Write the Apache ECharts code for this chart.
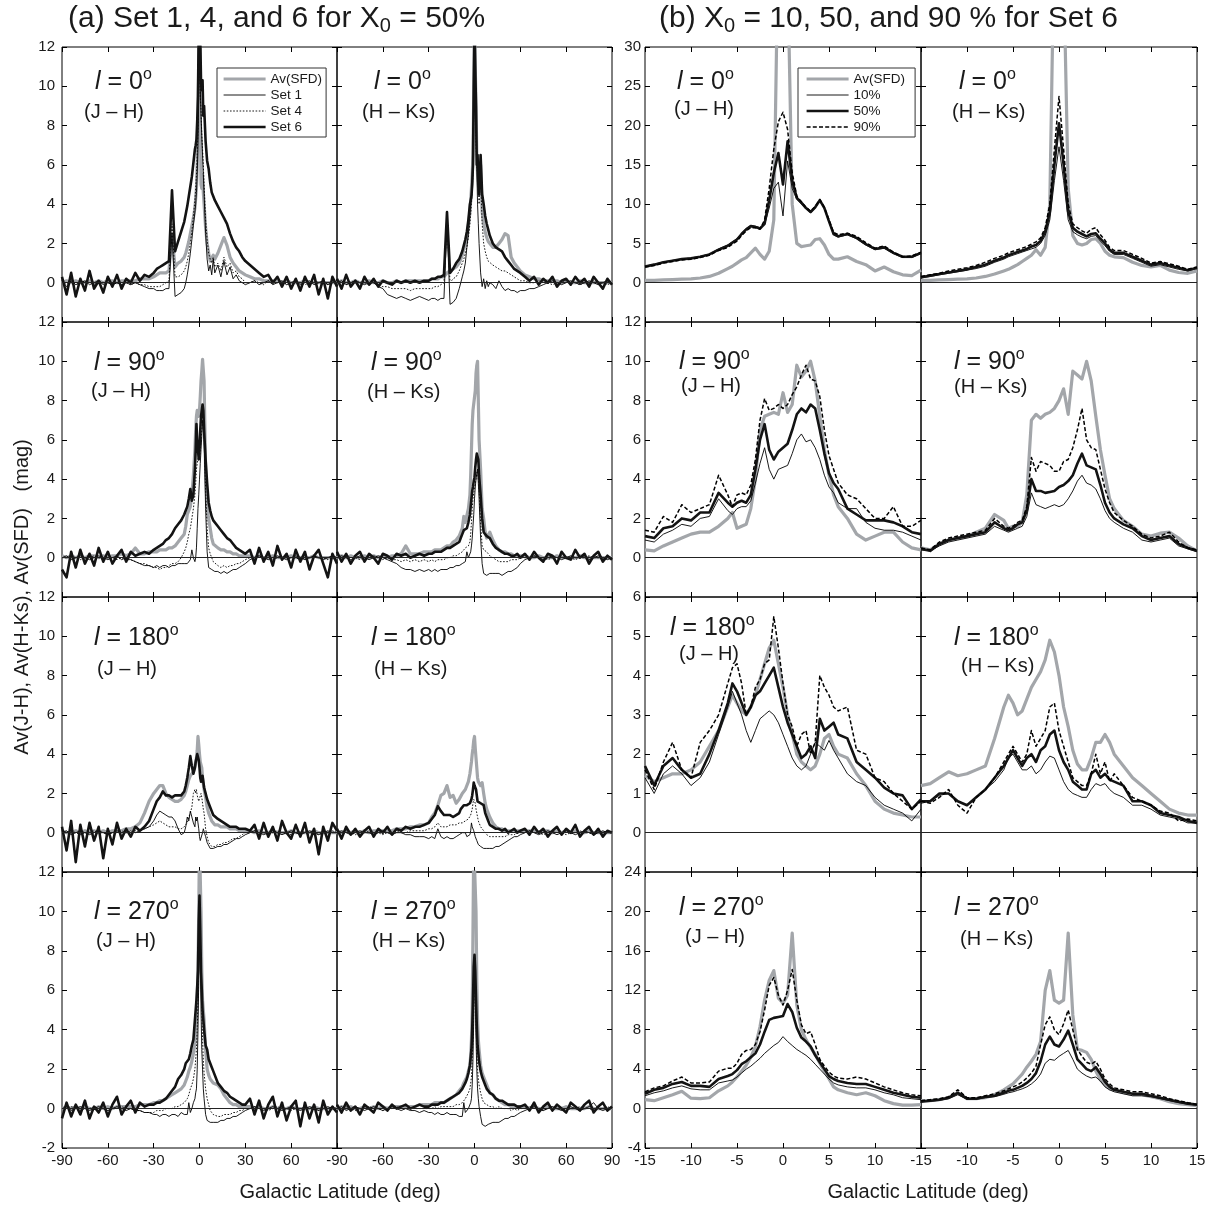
<!DOCTYPE html>
<html>
<head>
<meta charset="utf-8">
<script src="https://cdn.jsdelivr.net/npm/echarts/dist/echarts.min.js"></script>
<style>
html,body{margin:0;padding:0;background:#fff;}
#chart{width:1209px;height:1206px;}
</style>
</head>
<body>
<div id="chart"></div>
<script>
// ---------- sampling grids and tick labels ----------
// Galactic latitude (deg), full-sky profiles
const latA = [
  -90,-87,-84,-81,-78,-75,-72,-69,-66,-63,
  -60,-57,-54,-51,-48,-45,-42,-39,-36,-33,
  -30,-28,-26,-24,-22,-20,-18,-16,-14,-12,
  -10,-9,-8,-7,-6,-5,-4,
  -3,-2.5,-2,-1.5,-1,-0.5,0,0.5,1,1.5,2,2.5,3,
  4,5,6,7,8,9,10,
  12,14,16,18,20,22,24,26,28,30,
  33,36,39,42,45,48,51,54,57,60,
  63,66,69,72,75,78,81,84,87,90
];
// Galactic latitude (deg), low-latitude profiles
const latB = [
  -15,-14,-13,-12,-11,-10,-9,-8,-7,
  -6,-5.5,-5,-4.5,-4,-3.5,-3,-2.5,-2,-1.5,-1,-0.5,0,0.5,1,1.5,2,2.5,3,3.5,4,4.5,5,5.5,6,
  7,8,9,10,11,12,13,14,15
];
const xTicksA = [-90,-60,-30,0,30,60,90];
const xTicksB = [-15,-10,-5,0,5,10,15];
const yTicksA = [-2,0,2,4,6,8,10,12];
const yTicksB0 = [-5,0,5,10,15,20,25,30];
const yTicksB1 = [-2,0,2,4,6,8,10,12];
const yTicksB2 = [-1,0,1,2,3,4,5,6];
const yTicksB3 = [-4,0,4,8,12,16,20,24];

// ---------- (a) l = 0, J-H ----------
const sfd_l0_jh = [
  0.0,0.1,0.0,0.1,0.0,0.0,0.1,0.0,0.1,0.0, 0.1,0.1,0.0,0.1,0.1,0.1,0.1,0.2,0.2,0.2,
  0.3,0.4,0.5,0.5,0.5,0.6,2.4,0.8,1.0,1.1,
  1.3,1.5,1.8,2.1,2.5,2.9,3.3,
  3.8,4.3,4.8,6.0,8.0,11.0,13.5,9.0,5.0,4.8,5.5,4.6,4.0,
  2.8,2.0,1.5,1.1,1.0,1.4,1.2,
  1.5,1.9,2.3,1.9,1.3,1.0,0.8,0.6,0.5,0.4,
  0.3,0.2,0.2,0.1,0.1,0.1,0.1,0.0,0.1,0.0, 0.0,0.0,0.1,0.0,0.0,0.0,0.0,0.0,0.0,0.0
];
const set1_l0_jh = [
  0.1,-0.2,0.1,-0.1,0.0,0.1,-0.1,0.0,0.1,-0.1, 0.0,-0.1,0.0,-0.1,0.0,-0.1,0.0,-0.1,-0.2,-0.3,
  -0.3,-0.4,-0.4,-0.4,-0.3,-0.3,2.5,-0.7,-0.6,-0.5,
  -0.3,0.0,0.4,0.9,1.5,2.2,2.9,
  3.6,4.0,4.6,5.5,7.0,9.5,12.5,10.0,8.5,7.5,6.5,5.5,4.5,
  2.5,1.2,0.6,0.9,0.4,1.2,0.5,
  0.9,0.3,1.1,0.4,0.8,0.2,0.4,0.1,0.0,-0.1,
  0.0,0.1,-0.1,0.0,0.1,-0.1,0.0,0.1,-0.1,0.0, 0.1,-0.1,0.0,0.1,-0.1,0.0,0.1,-0.1,0.0,0.1
];
const set4_l0_jh = [
  0.1,-0.1,0.1,-0.1,0.0,0.1,0.0,-0.1,0.1,0.0, 0.0,-0.1,0.0,-0.1,0.0,-0.1,0.0,-0.1,-0.1,-0.2,
  -0.2,-0.2,-0.2,-0.1,0.0,0.1,3.0,0.3,0.3,0.4,
  0.6,0.8,1.1,1.5,2.0,2.6,3.4,
  4.2,4.8,5.5,6.5,7.8,10.0,12.5,9.5,8.8,7.5,6.8,6.0,5.0,
  3.2,2.2,1.5,1.2,1.0,1.3,0.8,
  1.0,0.6,1.3,0.8,1.0,0.5,0.6,0.3,0.2,0.0,
  0.0,0.1,0.0,-0.1,0.1,0.0,0.0,0.1,-0.1,0.0, 0.1,0.0,-0.1,0.0,0.1,0.0,0.0,-0.1,0.0,0.1
];
const set6_l0_jh = [
  0.3,-0.6,0.5,-0.7,0.2,-0.4,0.6,-0.3,0.1,-0.5, 0.3,-0.2,0.4,-0.3,0.2,0.0,0.5,0.1,0.4,0.3,
  0.5,0.7,0.8,0.9,1.0,1.1,4.7,1.6,2.1,2.6,
  3.1,3.5,3.9,4.4,4.9,5.4,6.1,
  6.8,7.0,7.3,8.2,9.5,13.0,13.0,12.5,10.2,9.8,10.3,8.5,9.0,
  7.2,6.2,5.8,5.1,4.6,4.4,4.2,
  3.9,3.6,3.3,3.0,2.5,2.1,1.8,1.6,1.3,1.1,
  0.9,0.7,0.5,0.3,0.4,0.0,0.3,-0.2,0.3,-0.3, 0.2,-0.4,0.3,-0.2,0.4,-0.6,0.2,-0.8,0.3,-0.2
];

// ---------- (a) l = 0, H-Ks ----------
const sfd_l0_hk = [
  0.0,0.1,0.0,0.0,0.1,0.0,0.0,0.1,0.0,0.0, 0.1,0.0,0.0,0.1,0.0,0.1,0.1,0.1,0.1,0.1,
  0.1,0.2,0.2,0.2,0.3,0.3,0.5,0.6,0.7,0.8,
  1.0,1.2,1.4,1.7,2.0,2.3,2.9,
  3.6,4.2,4.8,5.5,6.5,9.5,13.5,11.0,9.0,6.5,5.5,5.0,4.5,
  6.0,3.6,3.0,2.6,2.3,2.1,2.0,
  1.8,1.8,2.0,2.2,2.5,2.4,1.3,1.0,0.8,0.6,
  0.4,0.3,0.2,0.2,0.1,0.1,0.1,0.1,0.0,0.1, 0.0,0.0,0.1,0.0,0.0,0.0,0.0,0.0,0.0,0.0
];
const set1_l0_hk = [
  0.0,0.1,-0.1,0.0,0.1,0.0,-0.1,0.0,0.0,-0.2, -0.3,-0.6,-0.7,-0.8,-0.7,-0.8,-0.9,-0.8,-0.7,-0.8,
  -0.9,-0.8,-0.8,-0.9,-0.8,-0.8,3.0,-1.1,-1.0,-0.8,
  -0.3,0.0,0.3,0.6,1.0,1.8,2.5,
  3.5,4.0,4.5,5.5,6.5,9.0,12.5,10.0,8.0,6.0,4.0,3.0,2.0,
  0.5,-0.2,0.2,-0.3,0.1,-0.2,0.0,
  -0.1,-0.3,0.1,-0.2,-0.4,-0.3,-0.4,-0.4,-0.5,-0.4,
  -0.4,-0.3,-0.3,-0.2,-0.1,0.0,0.1,0.0,-0.1,0.0, 0.1,0.0,-0.1,0.0,0.1,0.0,-0.1,0.0,0.1,0.0
];
const set4_l0_hk = [
  0.0,0.0,-0.1,0.0,0.1,0.0,0.0,-0.1,0.0,-0.1, -0.2,-0.2,-0.3,-0.3,-0.3,-0.3,-0.4,-0.3,-0.3,-0.3,
  -0.3,-0.3,-0.2,-0.2,-0.1,0.0,3.0,0.0,0.2,0.3,
  0.6,0.8,1.0,1.2,1.5,1.8,2.3,
  3.0,3.5,4.0,4.8,5.5,8.5,12.5,9.0,7.0,6.0,5.5,4.8,4.0,
  5.5,3.0,2.0,1.6,1.3,1.1,1.0,
  0.9,0.8,0.7,0.6,0.6,0.5,0.4,0.3,0.2,0.1,
  0.1,0.0,0.0,0.1,0.0,0.0,-0.1,0.0,0.0,0.1, 0.0,0.0,-0.1,0.0,0.0,0.1,0.0,0.0,-0.1,0.0
];
const set6_l0_hk = [
  0.2,-0.3,0.4,-0.2,0.1,-0.3,0.3,-0.1,0.2,-0.2, 0.1,0.0,-0.1,0.1,0.0,0.1,0.0,0.1,0.0,0.1,
  0.1,0.2,0.2,0.3,0.3,0.4,3.6,0.5,0.7,1.0,
  1.2,1.4,1.6,1.9,2.2,2.6,3.2,
  4.0,4.2,4.4,5.0,6.0,10.0,13.0,13.0,9.0,6.0,6.5,5.0,4.5,
  6.5,4.5,4.0,3.4,3.0,2.7,2.4,
  2.0,1.8,1.7,1.6,1.3,1.1,0.9,0.7,0.6,0.5,
  0.3,0.1,0.3,-0.1,0.2,0.0,0.3,-0.2,0.1,0.2, -0.1,0.3,0.0,0.2,-0.2,0.3,0.0,-0.3,0.2,-0.1
];

// ---------- (a) l = 90, J-H ----------
const sfd_l90_jh = [
  0.1,0.0,0.1,0.0,0.1,0.0,0.1,0.1,0.0,0.1, 0.0,0.1,0.1,0.2,0.1,0.2,0.5,0.2,0.2,0.3,
  0.3,0.3,0.4,0.4,0.4,0.5,0.5,0.6,0.8,1.0,
  1.2,1.6,2.2,2.2,2.6,3.2,4.2,
  5.5,6.5,7.2,7.5,7.4,7.2,7.5,8.2,9.0,9.5,10.1,10.0,9.0,
  4.5,2.5,2.0,1.5,1.0,0.7,0.6,
  0.5,0.4,0.4,0.3,0.3,0.2,0.2,0.1,0.1,0.1,
  0.1,0.0,0.1,0.0,0.0,0.1,0.0,0.0,0.0,0.1, 0.0,0.0,0.0,0.0,0.1,0.0,0.0,0.0,0.0,0.0
];
const set1_l90_jh = [
  0.0,0.1,-0.1,0.0,0.1,0.0,-0.1,0.0,0.1,0.0, -0.1,0.0,0.1,-0.1,0.0,-0.1,-0.2,-0.3,-0.4,-0.4,
  -0.5,-0.4,-0.5,-0.4,-0.4,-0.5,-0.4,-0.4,-0.3,-0.3,
  -0.3,-0.2,-0.3,-0.2,-0.1,0.4,0.0,
  -0.2,0.0,0.5,1.5,2.5,3.2,4.0,4.8,5.5,6.2,7.0,6.5,6.0,
  2.5,0.3,-0.5,-0.6,-0.6,-0.7,-0.7,
  -0.7,-0.8,-0.7,-0.8,-0.7,-0.6,-0.6,-0.5,-0.4,-0.3,
  -0.1,0.0,0.1,0.0,-0.1,0.0,0.1,0.0,-0.1,0.0, 0.1,0.0,-0.1,0.0,0.1,0.0,-0.1,0.0,0.1,0.0
];
const set4_l90_jh = [
  0.0,0.0,0.1,0.0,-0.1,0.0,0.0,0.1,0.0,-0.1, 0.0,0.0,-0.1,0.0,-0.1,-0.1,-0.2,-0.3,-0.3,-0.4,
  -0.5,-0.5,-0.6,-0.5,-0.5,-0.4,-0.3,-0.3,-0.2,0.0,
  0.3,0.5,0.8,1.2,1.5,2.0,2.5,
  3.2,3.8,4.5,4.8,5.0,5.2,5.0,5.5,6.0,6.5,7.0,6.8,6.5,
  3.5,1.5,0.5,0.2,0.0,-0.2,-0.3,
  -0.4,-0.5,-0.4,-0.5,-0.4,-0.4,-0.3,-0.3,-0.2,-0.1,
  0.0,0.0,0.1,0.0,0.0,-0.1,0.0,0.0,0.1,0.0, 0.0,-0.1,0.0,0.0,0.1,0.0,0.0,-0.1,0.0,0.0
];
const set6_l90_jh = [
  -0.6,-1.0,0.3,-0.5,0.4,-0.3,0.2,-0.4,0.5,-0.2, 0.3,-0.3,0.1,0.4,-0.2,0.3,0.1,0.2,0.3,0.2,
  0.4,0.5,0.6,0.7,0.9,1.0,1.2,1.5,1.7,1.9,
  2.2,2.4,2.6,3.0,3.5,2.9,3.2,
  4.5,5.5,6.8,6.0,5.5,5.0,5.5,6.5,7.2,7.5,7.8,7.5,6.5,
  5.0,3.8,2.8,2.4,2.1,1.9,1.8,
  1.6,1.4,1.2,1.0,0.9,0.7,0.5,0.4,0.3,0.2,
  0.4,-0.3,0.5,-0.2,0.3,-0.4,0.6,-0.1,0.2,-0.5, 0.4,-0.2,0.3,-0.6,0.1,0.4,-0.3,-1.0,0.2,-0.3
];

// ---------- (a) l = 90, H-Ks ----------
const sfd_l90_hk = [
  0.0,0.1,0.0,0.1,0.0,0.0,0.1,0.0,0.1,0.0, 0.1,0.0,0.1,0.1,0.2,0.6,0.2,0.2,0.2,0.3,
  0.3,0.3,0.4,0.4,0.4,0.5,0.6,0.6,0.8,0.9,
  1.1,1.3,1.5,2.1,1.8,1.9,2.5,
  3.2,4.2,5.5,6.8,7.5,7.5,7.6,8.5,9.4,9.8,10.0,8.0,6.0,
  4.5,2.5,2.0,1.3,1.0,1.1,1.3,
  0.9,0.6,0.4,0.3,0.3,0.2,0.2,0.1,0.1,0.1,
  0.1,0.0,0.0,0.1,0.0,0.0,0.0,0.1,0.0,0.0, 0.0,0.0,0.1,0.0,0.0,0.0,0.0,0.0,0.0,0.0
];
const set1_l90_hk = [
  0.0,0.1,0.0,-0.1,0.0,0.1,0.0,-0.1,0.0,0.1, 0.0,-0.1,-0.2,-0.3,-0.5,-0.6,-0.6,-0.7,-0.6,-0.7,
  -0.6,-0.7,-0.6,-0.7,-0.6,-0.6,-0.6,-0.5,-0.5,-0.4,
  -0.4,-0.4,-0.3,-0.3,-0.2,0.3,0.0,
  0.0,0.3,0.6,1.0,1.6,2.2,3.0,3.6,4.0,4.3,4.5,3.8,3.0,
  1.0,-0.3,-0.8,-0.9,-0.9,-0.8,-0.8,
  -0.8,-0.8,-0.8,-0.9,-0.8,-0.7,-0.7,-0.6,-0.5,-0.3,
  -0.1,0.0,0.1,0.0,-0.1,0.0,0.1,0.0,-0.1,0.0, 0.1,0.0,0.0,0.1,-0.1,0.0,0.1,0.0,-0.1,0.0
];
const set4_l90_hk = [
  0.0,0.0,0.1,0.0,0.0,-0.1,0.0,0.0,0.1,0.0, -0.1,0.0,-0.1,-0.1,-0.2,-0.1,-0.2,-0.1,-0.2,-0.1,
  -0.2,-0.1,-0.2,-0.1,-0.1,-0.1,0.0,0.0,0.1,0.1,
  0.2,0.3,0.3,0.4,0.5,0.5,0.6,
  0.8,1.2,1.8,2.5,3.0,3.3,3.5,3.8,4.0,4.3,4.5,4.0,3.5,
  1.8,0.6,0.4,0.3,0.3,0.2,0.1,
  0.0,-0.1,-0.2,-0.2,-0.2,-0.2,-0.1,-0.1,-0.1,0.0,
  0.0,0.0,0.1,0.0,0.0,-0.1,0.0,0.0,0.1,0.0, 0.0,-0.1,0.0,0.0,0.1,0.0,0.0,-0.1,0.0,0.0
];
const set6_l90_hk = [
  0.3,-0.2,0.2,-0.3,0.1,0.3,-0.2,0.2,0.0,-0.3, 0.2,0.1,-0.1,0.2,0.1,0.2,0.0,0.1,0.2,0.1,
  0.2,0.2,0.3,0.3,0.3,0.4,0.5,0.5,0.6,0.7,
  0.8,1.0,1.2,1.4,1.3,1.5,1.8,
  2.2,2.6,3.0,3.4,3.6,3.9,4.1,4.6,5.0,5.3,5.4,5.0,4.2,
  3.2,2.0,1.3,1.2,1.1,1.0,1.0,
  0.7,0.5,0.4,0.3,0.2,0.2,0.1,0.1,0.2,0.0,
  0.2,-0.1,0.3,0.0,-0.2,0.2,0.1,-0.3,0.3,0.0, -0.1,0.4,0.0,0.2,-0.3,0.1,0.3,-0.2,0.1,-0.1
];

// ---------- (a) l = 180, J-H ----------
const sfd_l180_jh = [
  0.1,0.0,0.0,0.1,0.0,0.1,0.0,0.1,0.0,0.1, 0.0,0.1,0.1,0.1,0.2,0.2,0.3,0.5,1.0,1.6,
  2.0,2.2,2.4,2.4,2.0,1.8,1.7,1.6,1.6,1.7,
  1.9,2.1,2.4,2.7,2.9,3.0,3.1,
  3.4,3.6,3.8,4.2,4.9,4.5,4.0,3.6,3.5,3.3,2.8,2.5,2.2,
  1.8,1.3,1.0,0.8,0.6,0.5,0.4,
  0.4,0.3,0.3,0.3,0.2,0.2,0.2,0.1,0.1,0.1,
  0.1,0.0,0.1,0.0,0.0,0.1,0.0,0.0,0.0,0.1, 0.0,0.0,0.0,0.0,0.1,0.0,0.0,0.0,0.0,0.0
];
const set1_l180_jh = [
  0.0,0.1,-0.1,0.0,0.1,0.0,-0.1,0.0,0.1,0.0, -0.1,0.0,0.1,0.0,0.0,0.1,0.0,0.1,0.2,0.3,
  0.6,0.9,1.1,1.0,0.9,0.8,0.8,0.6,0.2,-0.1,
  0.0,0.3,0.8,0.6,1.1,0.8,0.5,
  0.3,0.8,0.6,0.8,0.5,0.2,-0.2,-0.4,-0.5,-0.3,0.0,0.2,0.1,
  -0.2,-0.5,-0.6,-0.8,-0.8,-0.8,-0.8,
  -0.7,-0.7,-0.6,-0.6,-0.5,-0.4,-0.3,-0.3,-0.2,-0.1,
  0.0,0.1,0.0,-0.1,0.0,0.1,0.0,-0.1,0.0,0.1, 0.0,-0.1,0.0,0.1,0.0,-0.1,0.0,0.1,0.0,0.0
];
const set4_l180_jh = [
  0.0,0.0,0.1,0.0,-0.1,0.0,0.0,0.1,0.0,0.0, -0.1,0.0,0.0,0.1,0.0,0.0,0.1,0.1,0.2,0.3,
  0.4,0.5,0.6,0.5,0.4,0.3,0.3,0.3,0.2,0.2,
  0.3,0.4,0.5,0.8,1.0,1.3,2.0,
  2.2,2.0,2.2,1.9,1.8,1.6,1.5,1.7,2.0,1.8,1.5,1.2,1.0,
  0.2,-0.2,-0.5,-0.6,-0.7,-0.7,-0.7,
  -0.6,-0.6,-0.5,-0.5,-0.4,-0.3,-0.3,-0.2,-0.1,0.0,
  0.0,0.1,0.0,0.0,-0.1,0.0,0.1,0.0,0.0,-0.1, 0.0,0.0,0.1,0.0,0.0,-0.1,0.0,0.0,0.1,0.0
];
const set6_l180_jh = [
  0.3,-0.9,0.6,-1.5,0.4,-0.7,0.5,-0.4,0.3,-1.3, 0.2,-0.6,0.5,-0.3,0.2,-0.2,0.3,0.1,0.3,0.6,
  1.2,1.6,1.8,2.1,1.9,1.9,1.8,1.9,1.9,1.9,
  2.1,2.4,2.8,3.3,3.9,3.4,3.0,
  3.3,3.6,3.8,4.0,4.1,3.7,3.3,2.8,2.6,2.7,2.9,2.6,2.3,
  2.0,1.7,1.6,1.3,1.1,0.9,0.8,
  0.7,0.6,0.5,0.4,0.3,0.3,0.3,0.2,0.2,0.2,
  0.1,0.4,-0.3,0.5,-0.2,0.3,-0.4,0.6,0.0,-0.3, 0.4,-0.2,0.5,-0.5,0.2,-1.1,0.3,-0.4,0.5,0.1
];

// ---------- (a) l = 180, H-Ks ----------
const sfd_l180_hk = [
  0.1,0.0,0.1,0.0,0.1,0.0,0.1,0.0,0.1,0.1, 0.1,0.1,0.1,0.2,0.2,0.2,0.3,0.3,0.4,0.4,
  0.5,0.8,1.0,1.4,1.9,2.0,2.4,1.8,1.9,1.5,
  1.7,1.8,2.0,2.1,2.2,2.3,2.6,
  3.0,3.3,3.6,4.0,4.3,4.7,4.9,4.3,3.8,3.3,2.8,2.6,2.5,
  2.4,2.55,2.0,1.5,1.2,1.0,0.8,
  0.5,0.3,0.2,0.2,0.1,0.1,0.1,0.1,0.1,0.1,
  0.1,0.1,0.1,0.0,0.1,0.1,0.0,0.1,0.0,0.1, 0.0,0.1,0.0,0.0,0.1,0.0,0.0,0.0,0.0,0.0
];
const set1_l180_hk = [
  0.0,0.1,0.0,-0.1,0.0,0.1,0.0,0.0,-0.1,0.0, 0.1,0.0,-0.1,0.0,0.0,-0.1,-0.1,-0.2,-0.2,-0.2,
  -0.3,-0.2,-0.3,0.2,-0.2,-0.3,-0.2,-0.3,-0.3,-0.2,
  -0.1,-0.1,0.0,-0.1,0.0,-0.2,-0.3,
  -0.1,0.1,0.5,0.3,0.2,0.1,0.0,-0.2,-0.3,-0.4,-0.5,-0.6,-0.6,
  -0.7,-0.8,-0.8,-0.8,-0.8,-0.8,-0.8,
  -0.8,-0.7,-0.7,-0.6,-0.5,-0.4,-0.3,-0.2,-0.2,-0.1,
  0.0,0.1,0.0,-0.1,0.0,0.1,0.0,-0.1,0.0,0.1, 0.0,-0.1,0.0,0.1,0.0,-0.1,0.0,0.1,0.0,0.0
];
const set4_l180_hk = [
  0.0,0.0,0.1,0.0,-0.1,0.0,0.0,0.1,0.0,0.0, -0.1,0.0,0.0,0.1,0.0,0.0,0.1,0.1,0.1,0.1,
  0.2,0.2,0.3,0.5,0.3,0.3,0.3,0.4,0.4,0.4,
  0.5,0.5,0.5,0.6,0.6,0.6,0.7,
  0.8,0.9,1.0,1.2,1.5,1.7,1.8,1.5,1.2,1.0,0.8,0.6,0.5,
  0.3,0.2,0.1,0.0,-0.1,-0.1,-0.2,
  -0.2,-0.2,-0.2,-0.2,-0.2,-0.1,-0.1,-0.1,0.0,0.0,
  0.0,0.1,0.0,0.0,-0.1,0.0,0.1,0.0,0.0,-0.1, 0.0,0.0,0.1,0.0,0.0,-0.1,0.0,0.0,0.1,0.0
];
const set6_l180_hk = [
  0.2,-0.3,0.3,-0.1,0.2,-0.2,0.1,0.3,-0.2,0.2, 0.0,0.3,-0.1,0.2,0.1,0.3,0.2,0.3,0.3,0.4,
  0.5,0.7,0.9,1.35,1.1,0.9,0.9,0.9,0.8,0.9,
  1.0,1.2,1.3,1.4,1.4,1.4,1.5,
  1.5,1.6,1.7,1.9,2.2,2.55,2.4,2.3,2.2,1.9,1.6,1.5,1.5,
  1.5,1.4,1.4,1.0,0.8,0.6,0.4,
  0.3,0.2,0.2,0.1,0.2,0.0,0.1,0.2,0.0,0.1,
  0.2,-0.1,0.3,0.0,0.2,-0.2,0.1,0.3,-0.1,0.2, 0.0,0.4,-0.2,0.1,0.3,-0.1,0.2,-0.2,0.1,0.0
];

// ---------- (a) l = 270, J-H ----------
const sfd_l270_jh = [
  0.0,0.1,0.0,0.1,0.0,0.1,0.0,0.0,0.1,0.0, 0.1,0.0,0.1,0.1,0.1,0.1,0.1,0.2,0.2,0.2,
  0.3,0.3,0.4,0.4,0.5,0.6,0.7,0.8,0.9,1.0,
  1.2,1.4,1.6,1.9,2.1,2.4,2.8,
  3.3,3.8,4.5,5.5,7.0,10.0,13.5,13.5,10.0,7.0,5.5,5.0,4.5,
  3.0,2.0,1.7,1.5,1.4,1.3,1.3,
  1.2,1.0,0.7,0.5,0.3,0.2,0.2,0.1,0.1,0.1,
  0.1,0.0,0.1,0.0,0.0,0.1,0.0,0.0,0.0,0.1, 0.0,0.0,0.0,0.0,0.1,0.0,0.0,0.0,0.0,0.0
];
const set1_l270_jh = [
  0.0,0.1,-0.1,0.0,0.1,0.0,-0.1,0.0,0.1,0.0, -0.1,0.0,0.1,0.0,-0.1,0.0,-0.1,-0.1,-0.2,-0.2,
  -0.3,-0.3,-0.4,-0.3,-0.3,-0.4,-0.3,-0.3,-0.4,-0.2,
  -0.3,-0.2,-0.3,0.3,-0.2,0.0,0.3,
  0.5,0.8,1.0,2.0,4.0,6.5,9.0,8.0,5.0,3.0,2.0,1.0,0.5,
  -0.3,-0.6,-0.7,-0.7,-0.7,-0.7,-0.7,
  -0.7,-0.6,-0.6,-0.5,-0.5,-0.4,-0.4,-0.3,-0.2,-0.1,
  0.0,0.1,0.0,-0.1,0.0,0.1,0.0,-0.1,0.0,0.1, 0.0,-0.1,0.0,0.1,0.0,-0.1,0.0,0.1,0.0,0.0
];
const set4_l270_jh = [
  0.0,0.0,0.1,0.0,-0.1,0.0,0.0,0.1,0.0,0.0, -0.1,0.0,0.0,0.1,0.0,0.0,-0.1,-0.1,-0.2,-0.2,
  -0.2,-0.1,-0.1,-0.1,0.0,0.0,0.0,0.1,0.1,0.2,
  0.3,0.4,0.5,0.7,1.0,1.2,1.5,
  2.0,2.5,3.0,4.0,5.5,8.0,10.5,9.0,7.0,5.0,3.5,2.5,1.8,
  1.0,0.5,0.2,-0.1,-0.2,-0.3,-0.3,
  -0.4,-0.4,-0.3,-0.3,-0.3,-0.2,-0.2,-0.1,-0.1,0.0,
  0.0,0.1,0.0,0.0,-0.1,0.0,0.1,0.0,0.0,-0.1, 0.0,0.0,0.1,0.0,0.0,-0.1,0.0,0.0,0.1,0.0
];
const set6_l270_jh = [
  -0.5,0.3,-0.4,0.2,-0.3,0.4,-0.5,0.1,-0.2,0.3, -0.4,0.2,0.6,-0.3,0.1,0.4,-0.2,0.3,0.1,0.2,
  0.2,0.3,0.3,0.4,0.5,0.7,0.9,1.1,1.5,1.7,
  2.0,2.3,2.3,2.5,2.8,3.2,3.5,
  4.5,5.0,5.5,6.2,7.0,9.5,10.8,9.0,6.9,6.0,5.0,4.5,4.0,
  3.2,3.0,2.5,2.3,2.1,1.9,1.8,
  1.3,1.1,0.9,0.8,0.6,0.5,0.4,0.3,0.2,0.2,
  0.5,-0.3,0.4,-0.5,0.2,0.6,-0.4,0.3,-0.6,0.1, 0.4,-0.9,0.3,-0.5,0.2,-0.7,0.4,-0.3,0.1,-0.2
];

// ---------- (a) l = 270, H-Ks ----------
const sfd_l270_hk = [
  0.0,0.1,0.0,0.1,0.0,0.0,0.1,0.0,0.1,0.0, 0.1,0.0,0.1,0.1,0.1,0.1,0.1,0.1,0.2,0.2,
  0.2,0.2,0.3,0.3,0.3,0.3,0.4,0.5,0.6,0.7,
  0.9,1.0,1.1,1.3,1.4,1.6,1.9,
  2.2,2.7,3.5,5.0,9.0,13.5,13.5,13.5,10.0,6.5,4.5,3.5,3.0,
  2.2,1.8,1.6,1.4,1.2,1.0,0.8,
  0.7,0.5,0.4,0.3,0.2,0.2,0.1,0.1,0.1,0.1,
  0.1,0.0,0.1,0.0,0.0,0.1,0.0,0.0,0.0,0.1, 0.0,0.0,0.0,0.0,0.1,0.0,0.0,0.0,0.0,0.0
];
const set1_l270_hk = [
  0.0,0.1,-0.1,0.0,0.1,0.0,-0.1,0.0,0.1,0.0, -0.1,0.0,0.1,0.0,-0.1,0.0,-0.1,-0.1,-0.2,-0.1,
  -0.2,-0.2,-0.3,-0.2,-0.3,-0.3,-0.2,-0.3,-0.3,-0.3,
  -0.4,-0.4,-0.4,0.3,-0.2,-0.1,0.0,
  0.1,0.3,0.5,1.2,2.5,4.5,7.0,6.0,3.5,2.0,1.0,0.5,0.1,
  -0.4,-0.8,-0.9,-0.9,-0.8,-0.8,-0.7,
  -0.7,-0.7,-0.7,-0.6,-0.5,-0.5,-0.4,-0.4,-0.3,-0.2,
  -0.1,0.0,0.1,0.0,-0.1,0.0,0.1,0.0,-0.1,0.0, 0.1,0.0,-0.1,0.0,0.1,0.3,0.0,-0.1,0.0,0.0
];
const set4_l270_hk = [
  0.0,0.0,0.1,0.0,-0.1,0.0,0.0,0.1,0.0,0.0, -0.1,0.0,0.0,0.1,0.0,0.0,0.0,0.0,0.0,0.0,
  0.0,0.0,0.1,0.0,0.1,0.1,0.1,0.1,0.1,0.2,
  0.2,0.3,0.3,0.4,0.5,0.6,0.8,
  1.0,1.3,1.6,2.5,3.5,5.0,7.0,6.5,4.5,3.0,2.0,1.5,1.2,
  0.8,0.5,0.3,0.2,0.2,0.1,0.1,
  0.1,0.0,0.1,0.0,0.0,0.0,-0.1,0.0,-0.1,0.0,
  0.0,0.1,0.0,0.0,-0.1,0.0,0.1,0.0,0.0,-0.1, 0.0,0.0,0.1,0.0,0.0,-0.1,0.0,0.0,0.1,0.0
];
const set6_l270_hk = [
  0.2,-0.2,0.3,-0.1,0.1,-0.3,0.2,0.0,-0.2,0.3, 0.1,-0.1,0.2,0.0,0.1,0.2,0.0,0.1,0.2,0.1,
  0.1,0.2,0.2,0.2,0.3,0.3,0.4,0.5,0.6,0.7,
  0.8,0.9,1.0,1.1,1.3,1.5,1.8,
  2.2,2.6,3.0,4.0,5.5,7.2,7.8,7.0,5.5,4.2,3.2,2.8,2.4,
  1.9,1.6,1.4,1.2,1.0,0.9,0.8,
  0.7,0.5,0.4,0.4,0.3,0.2,0.2,0.2,0.1,0.1,
  0.2,-0.1,0.3,-0.2,0.1,0.3,-0.1,0.2,0.0,-0.2, 0.3,0.1,-0.1,0.2,0.4,-0.2,0.1,0.3,-0.1,0.1
];

// ---------- (b) l = 0 ----------
const sfd_b0_jh = [0.3,0.3,0.35,0.4,0.45,0.5,0.6,0.8,1.2,
  1.8,2.1,2.5,2.9,3.2, 3.8,4.4,3.6,3.0,4.0, 8.0,45,50,40,10, 5.0,4.6,4.7,4.8,5.5, 5.6,4.8,3.6,3.0,3.0,
  3.3,2.7,2.3,1.5,2.0,1.4,1.0,0.9,1.6];
const x10_b0_jh = [2.1,2.35,2.65,2.85,3.0,3.15,3.35,3.65,4.3,
  4.8,5.2,5.6,6.3,6.9, 7.3,7.2,7.0,7.4,9.5, 12.0,12.8,8.5,15.5,12.0, 10.6,10.0,9.4,8.9,9.5, 10.4,9.4,7.7,6.1,5.8,
  6.1,5.6,4.8,4.2,4.4,3.7,3.2,3.2,3.7];
const x50_b0_jh = [2.05,2.3,2.6,2.8,3.0,3.1,3.3,3.6,4.2,
  4.7,5.1,5.5,6.2,6.8, 7.2,7.1,6.9,7.5,10.5, 14.0,16.5,12.5,18.0,13.0, 10.8,10.2,9.5,9.0,9.6, 10.5,9.5,7.8,6.2,5.9,
  6.2,5.7,4.9,4.3,4.5,3.8,3.3,3.3,3.8];
const x90_b0_jh = [2.0,2.2,2.5,2.7,2.9,3.0,3.2,3.5,4.1,
  4.5,4.9,5.3,6.0,6.6, 7.0,7.0,6.8,8.0,12.0, 17.0,20.5,21.7,19.5,14.0, 11.0,10.3,9.6,9.1,9.7, 10.6,9.6,8.0,6.4,6.1,
  6.3,5.9,5.1,4.4,4.7,3.9,3.3,3.4,3.9];
const sfd_b0_hk = [0.3,0.3,0.35,0.4,0.45,0.5,0.6,0.8,1.1,
  1.5,1.7,2.0,2.3,2.7, 3.1,3.5,4.2,3.5,4.5, 10.0,45,50,40,12, 6.0,5.0,4.8,5.0,5.5, 5.6,5.0,4.0,3.5,3.3,
  3.2,2.6,2.2,2.0,2.2,1.6,1.3,1.2,1.5];
const x10_b0_hk = [0.6,0.8,1.0,1.2,1.4,1.6,1.8,2.1,2.6,
  3.0,3.3,3.5,3.7,3.9, 4.1,4.3,4.5,5.0,6.0, 8.0,13.0,17.3,13.0,8.0, 6.5,6.1,5.8,5.6,5.9, 6.0,5.3,4.7,4.0,3.6,
  3.6,3.1,2.6,2.1,2.3,2.0,1.7,1.5,1.8];
const x50_b0_hk = [0.7,0.9,1.1,1.3,1.5,1.7,2.0,2.3,2.8,
  3.2,3.5,3.7,3.9,4.1, 4.3,4.6,4.8,5.3,6.5, 9.0,15.0,20.3,15.0,9.0, 7.0,6.5,6.2,5.9,6.2, 6.3,5.6,5.0,4.2,3.8,
  3.8,3.3,2.8,2.3,2.5,2.2,1.9,1.6,1.9];
const x90_b0_hk = [0.8,1.0,1.2,1.5,1.7,1.9,2.2,2.6,3.1,
  3.5,3.8,4.0,4.2,4.4, 4.6,4.9,5.2,5.7,7.0, 10.0,17.0,23.7,17.0,10.0, 7.5,7.0,6.6,6.3,6.8, 7.0,6.1,5.4,4.5,4.1,
  4.1,3.6,3.1,2.5,2.7,2.4,2.1,1.7,2.0];

// ---------- (b) l = 90 ----------
const sfd_b90_jh = [0.4,0.35,0.6,0.8,1.0,1.2,1.3,1.3,1.6,
  2.0,2.3,1.5,1.6,1.7, 2.5,4.0,6.5,7.2,7.3, 7.4,7.3,8.4,7.4,7.8, 9.8,9.2,9.5,10.0,9.0, 7.2,5.5,4.2,3.2,2.6,
  2.0,1.2,0.9,1.1,1.3,1.3,0.8,0.5,0.4];
const x10_b90_jh = [0.9,0.8,1.2,1.4,1.7,1.6,2.0,2.1,3.0,
  2.4,2.2,2.5,2.6,2.6, 2.9,3.8,4.8,5.6,4.5, 4.0,4.5,4.6,4.7,5.3, 6.0,6.3,5.9,6.0,5.6, 5.0,4.2,3.6,3.3,2.8,
  2.5,2.5,1.8,1.5,1.4,1.4,1.3,1.1,0.9];
const x50_b90_jh = [1.1,1.0,1.5,1.6,2.0,1.9,2.3,2.3,3.3,
  2.8,2.6,2.8,2.9,2.8, 3.2,4.5,6.0,6.8,5.5, 5.0,5.4,5.6,5.8,6.5, 7.3,7.6,7.4,7.8,7.6, 6.5,5.3,4.3,3.8,3.5,
  2.5,2.2,1.9,1.9,1.9,1.8,1.6,1.3,1.2];
const x90_b90_jh = [1.4,1.3,2.1,1.8,2.7,2.3,2.5,2.7,4.2,
  3.2,2.6,3.2,3.3,3.2, 3.7,5.0,7.0,8.1,7.5, 7.6,7.8,7.6,7.8,8.3, 8.7,9.3,9.8,9.1,9.0, 8.2,6.5,5.2,4.5,3.8,
  3.2,3.0,2.5,2.0,2.0,2.6,1.6,1.6,1.9];
const sfd_b90_hk = [0.5,0.4,0.7,0.9,1.0,1.1,1.3,1.5,2.2,
  1.9,1.5,1.6,1.6,1.8, 3.2,7.0,7.3,7.1,7.3, 7.4,7.6,8.0,8.6,7.3, 9.5,9.3,9.1,10.0,9.0, 7.2,5.5,4.2,3.0,2.5,
  1.9,1.6,1.2,1.1,1.25,1.3,1.0,0.6,0.35];
const x10_b90_hk = [0.4,0.35,0.6,0.8,0.9,1.0,1.1,1.2,1.6,
  1.4,1.3,1.4,1.5,1.6, 2.1,3.3,2.7,2.6,2.5, 2.6,2.7,2.6,2.7,3.0, 3.4,3.9,4.2,3.8,3.7, 3.5,3.0,2.4,2.0,1.8,
  1.5,1.3,0.9,0.8,0.9,1.0,0.6,0.45,0.3];
const x50_b90_hk = [0.45,0.35,0.7,0.9,1.0,1.1,1.2,1.3,1.8,
  1.5,1.4,1.5,1.7,1.8, 2.4,4.0,3.4,3.4,3.3, 3.35,3.4,3.6,3.7,3.9, 4.2,4.8,5.3,4.7,4.6, 4.5,3.7,2.8,2.3,2.0,
  1.7,1.5,1.1,0.9,1.0,1.1,0.7,0.5,0.35];
const x90_b90_hk = [0.5,0.4,0.8,1.0,1.1,1.2,1.3,1.4,2.0,
  1.6,1.5,1.6,1.8,1.9, 2.6,5.1,4.4,4.9,4.8, 4.7,4.4,4.4,4.9,5.0, 5.6,6.5,7.6,6.0,5.6, 5.5,4.5,3.5,2.8,2.3,
  1.9,1.6,1.2,1.0,1.1,1.3,0.8,0.5,0.4];

// ---------- (b) l = 180 ----------
const sfd_b180_jh = [1.45,1.3,1.4,1.5,1.5,1.6,1.8,2.2,2.6,
  3.2,3.5,3.3,3.1,3.0, 3.2,3.5,3.9,4.3,4.7, 4.9,4.3,3.7,3.0,2.5, 2.0,1.8,1.7,1.6,1.7, 2.0,2.4,2.5,2.2,2.0,
  1.9,1.5,1.2,0.8,0.6,0.5,0.45,0.4,0.4];
const x10_b180_jh = [1.4,1.0,1.5,1.7,1.5,1.2,1.4,1.8,2.5,
  3.2,3.6,3.3,3.0,2.6, 2.3,2.6,2.9,3.0,3.1, 3.0,2.8,2.5,2.2,1.9, 1.7,1.6,1.7,2.0,2.3, 2.2,2.1,2.35,2.1,1.9,
  1.5,1.3,1.2,0.9,0.7,0.6,0.5,0.3,0.6];
const x50_b180_jh = [1.7,1.2,1.7,1.9,1.6,1.4,1.5,2.0,2.6,
  3.3,3.8,3.6,3.3,3.0, 3.2,3.5,3.6,3.8,4.0, 4.2,3.7,3.2,2.8,2.5, 2.2,1.9,2.0,2.2,1.9, 2.9,2.6,2.7,2.8,2.5,
  2.4,1.8,1.6,1.4,1.15,1.0,0.95,0.6,0.85];
const x90_b180_jh = [1.6,1.1,1.8,2.3,1.6,1.4,2.3,2.6,3.0,
  3.8,4.2,4.3,3.8,3.0, 3.2,3.7,3.9,4.3,4.4, 5.5,4.7,3.8,3.0,2.7, 2.2,2.5,2.6,2.0,2.3, 4.0,3.7,3.5,3.2,3.1,
  3.2,2.1,2.0,1.4,1.3,1.0,0.8,0.6,0.8];
const sfd_b180_hk = [1.2,1.25,1.4,1.55,1.45,1.5,1.6,1.7,2.4,
  3.2,3.5,3.3,3.0,3.1, 3.4,3.7,3.9,4.1,4.4, 4.9,4.6,4.0,3.2,2.7, 2.1,1.75,1.6,1.6,1.9, 2.3,2.3,2.5,2.3,2.0,
  1.7,1.4,1.2,1.0,0.8,0.6,0.5,0.45,0.45];
const x10_b180_hk = [0.75,0.8,0.95,1.0,0.8,0.7,0.9,1.1,1.3,
  1.6,1.9,2.0,1.8,1.6, 1.6,1.7,1.5,1.6,1.8, 1.95,1.9,1.6,1.3,1.1, 1.0,0.95,0.9,0.9,1.1, 1.25,1.2,1.25,1.1,1.0,
  0.9,0.7,0.7,0.6,0.45,0.4,0.35,0.25,0.25];
const x50_b180_hk = [0.8,0.8,1.0,1.0,0.8,0.7,0.9,1.1,1.4,
  1.7,1.9,2.1,1.9,1.7, 1.9,2.0,1.8,2.1,2.2, 2.5,2.6,2.1,1.8,1.6, 1.3,1.2,1.1,1.1,1.5, 1.6,1.4,1.5,1.35,1.3,
  1.2,0.8,0.8,0.7,0.5,0.45,0.4,0.3,0.25];
const x90_b180_hk = [0.8,0.75,0.9,1.1,0.7,0.5,0.9,1.1,1.4,
  1.8,2.0,2.2,2.0,1.8, 2.0,2.6,2.2,2.4,2.6, 3.2,3.3,2.6,2.2,1.8, 1.4,1.3,1.2,1.2,1.5, 2.0,1.5,1.8,1.3,1.5,
  1.2,0.9,0.8,0.7,0.55,0.5,0.3,0.35,0.3];

// ---------- (b) l = 270 ----------
const sfd_b270_jh = [0.9,0.8,1.1,1.4,1.75,1.05,1.0,1.1,1.8,
  2.3,2.7,3.2,3.8,4.4, 5.2,6.3,8.3,11.0,13.0, 14.0,11.2,10.7,11.5,17.8, 10.5,8.0,7.0,6.2,5.5, 4.6,3.8,3.0,2.2,1.9,
  1.6,1.4,1.6,1.3,0.8,0.5,0.35,0.35,0.4];
const x10_b270_jh = [1.3,1.6,1.8,2.1,2.3,2.0,1.9,1.9,2.6,
  2.8,2.9,3.2,3.6,4.0, 4.3,4.7,5.1,5.6,6.0, 6.4,6.7,7.3,6.8,6.4, 6.0,5.7,5.4,5.0,4.5, 4.0,3.5,3.0,2.6,2.4,
  2.2,2.1,2.1,1.9,1.6,1.4,1.1,1.0,0.9];
const x50_b270_jh = [1.5,1.9,2.1,2.5,2.7,2.3,2.3,2.2,3.0,
  3.3,3.5,3.9,4.5,4.8, 5.2,5.6,6.5,7.8,9.0, 9.2,9.3,9.4,10.6,9.8, 8.2,7.2,6.8,6.3,5.4, 4.7,4.0,3.3,3.0,2.8,
  2.6,2.5,2.5,2.2,1.9,1.6,1.4,1.2,1.1];
const x90_b270_jh = [1.7,2.1,2.3,2.8,3.2,2.6,2.6,2.7,3.8,
  4.1,4.1,4.6,5.5,5.9, 6.0,6.5,7.8,10.0,12.5, 13.3,11.5,10.5,12.0,14.1, 11.0,8.5,7.6,7.8,6.5, 5.0,4.3,3.7,3.3,3.1,
  3.0,3.2,3.0,2.6,2.2,1.9,1.6,1.4,1.3];
const sfd_b270_hk = [0.8,0.8,0.9,1.1,1.6,1.0,1.0,1.1,1.4,
  1.9,2.2,2.5,3.0,3.5, 4.2,4.8,5.5,6.8,12.0, 14.0,11.0,10.7,11.0,17.8, 9.5,6.0,5.9,5.7,5.0, 3.8,2.9,2.4,2.0,1.9,
  1.6,1.4,1.4,1.2,1.0,0.7,0.5,0.4,0.3];
const x10_b270_hk = [0.7,0.75,0.85,1.0,1.4,0.95,0.95,1.1,1.2,
  1.45,1.6,1.7,1.85,2.0, 2.2,2.5,2.9,3.5,4.6, 5.0,4.9,5.3,5.6,5.9, 5.0,4.0,3.6,3.3,3.1, 3.2,2.8,2.2,1.9,1.7,
  1.5,1.3,1.3,1.2,1.0,0.8,0.6,0.45,0.35];
const x50_b270_hk = [0.7,0.8,0.9,1.1,1.6,1.0,1.0,1.2,1.3,
  1.6,1.8,1.9,2.1,2.3, 2.6,3.0,3.6,4.8,6.5, 7.3,6.5,6.3,7.0,7.9, 6.5,5.0,4.5,4.0,3.8, 4.2,3.5,2.7,2.2,1.9,
  1.7,1.5,1.5,1.3,1.1,0.9,0.7,0.5,0.4];
const x90_b270_hk = [0.8,0.9,1.0,1.2,1.9,1.1,1.1,1.3,1.5,
  1.8,2.0,2.2,2.4,2.7, 3.1,3.6,4.3,6.5,8.5, 9.3,8.0,7.5,8.6,10.0, 8.0,6.0,5.3,4.7,4.5, 4.8,4.0,3.0,2.5,2.1,
  1.9,1.7,1.7,1.5,1.3,1.0,0.8,0.6,0.4];

// ---------- panel composition ----------
const panels = [
  {row:0,col:0,lon:'0',  band:'(J – H)', lat:latA,yt:yTicksA, lines:[['Av(SFD)',sfd_l0_jh],['Set 4',set4_l0_jh],['Set 1',set1_l0_jh],['Set 6',set6_l0_jh]]},
  {row:0,col:1,lon:'0',  band:'(H – Ks)',lat:latA,yt:yTicksA, lines:[['Av(SFD)',sfd_l0_hk],['Set 4',set4_l0_hk],['Set 1',set1_l0_hk],['Set 6',set6_l0_hk]]},
  {row:1,col:0,lon:'90', band:'(J – H)', lat:latA,yt:yTicksA, lines:[['Av(SFD)',sfd_l90_jh],['Set 4',set4_l90_jh],['Set 1',set1_l90_jh],['Set 6',set6_l90_jh]]},
  {row:1,col:1,lon:'90', band:'(H – Ks)',lat:latA,yt:yTicksA, lines:[['Av(SFD)',sfd_l90_hk],['Set 4',set4_l90_hk],['Set 1',set1_l90_hk],['Set 6',set6_l90_hk]]},
  {row:2,col:0,lon:'180',band:'(J – H)', lat:latA,yt:yTicksA, lines:[['Av(SFD)',sfd_l180_jh],['Set 4',set4_l180_jh],['Set 1',set1_l180_jh],['Set 6',set6_l180_jh]]},
  {row:2,col:1,lon:'180',band:'(H – Ks)',lat:latA,yt:yTicksA, lines:[['Av(SFD)',sfd_l180_hk],['Set 4',set4_l180_hk],['Set 1',set1_l180_hk],['Set 6',set6_l180_hk]]},
  {row:3,col:0,lon:'270',band:'(J – H)', lat:latA,yt:yTicksA, lines:[['Av(SFD)',sfd_l270_jh],['Set 4',set4_l270_jh],['Set 1',set1_l270_jh],['Set 6',set6_l270_jh]]},
  {row:3,col:1,lon:'270',band:'(H – Ks)',lat:latA,yt:yTicksA, lines:[['Av(SFD)',sfd_l270_hk],['Set 4',set4_l270_hk],['Set 1',set1_l270_hk],['Set 6',set6_l270_hk]]},
  {row:0,col:2,lon:'0',  band:'(J – H)', lat:latB,yt:yTicksB0,lines:[['Av(SFD)',sfd_b0_jh],['10%',x10_b0_jh],['50%',x50_b0_jh],['90%',x90_b0_jh]]},
  {row:0,col:3,lon:'0',  band:'(H – Ks)',lat:latB,yt:yTicksB0,lines:[['Av(SFD)',sfd_b0_hk],['10%',x10_b0_hk],['50%',x50_b0_hk],['90%',x90_b0_hk]]},
  {row:1,col:2,lon:'90', band:'(J – H)', lat:latB,yt:yTicksB1,lines:[['Av(SFD)',sfd_b90_jh],['10%',x10_b90_jh],['50%',x50_b90_jh],['90%',x90_b90_jh]]},
  {row:1,col:3,lon:'90', band:'(H – Ks)',lat:latB,yt:yTicksB1,lines:[['Av(SFD)',sfd_b90_hk],['10%',x10_b90_hk],['50%',x50_b90_hk],['90%',x90_b90_hk]]},
  {row:2,col:2,lon:'180',band:'(J – H)', lat:latB,yt:yTicksB2,lines:[['Av(SFD)',sfd_b180_jh],['10%',x10_b180_jh],['50%',x50_b180_jh],['90%',x90_b180_jh]]},
  {row:2,col:3,lon:'180',band:'(H – Ks)',lat:latB,yt:yTicksB2,lines:[['Av(SFD)',sfd_b180_hk],['10%',x10_b180_hk],['50%',x50_b180_hk],['90%',x90_b180_hk]]},
  {row:3,col:2,lon:'270',band:'(J – H)', lat:latB,yt:yTicksB3,lines:[['Av(SFD)',sfd_b270_jh],['10%',x10_b270_jh],['50%',x50_b270_jh],['90%',x90_b270_jh]]},
  {row:3,col:3,lon:'270',band:'(H – Ks)',lat:latB,yt:yTicksB3,lines:[['Av(SFD)',sfd_b270_hk],['10%',x10_b270_hk],['50%',x50_b270_hk],['90%',x90_b270_hk]]}
];

// ---------- layout and styling ----------
const FONT = '"Liberation Sans", Arial, Helvetica, sans-serif';
const INK = '#1a1a1a';
const colX = [62, 337, 645, 921];
const colW = [275, 275, 276, 276];
const rowY = [47, 322, 597, 872];
const rowH = [275, 275, 275, 276];
// panel label anchors: [left, vertical centre]
const lonPos = [
  [[95,82],[374,82],[677,82],[959,82]],
  [[94,363],[371,363],[679,362],[954,362]],
  [[94,638],[371,638],[670,628],[954,638]],
  [[94,912],[371,912],[679,908],[954,908]]
];
const bandPos = [
  [[84,113],[362,113],[674,110],[952,113]],
  [[91,392],[367,393],[681,387],[954,388]],
  [[97,670],[374,670],[679,655],[961,667]],
  [[96,942],[372,942],[685,938],[960,940]]
];
const lineStyles = {
  'Av(SFD)': {color:'#a3a6aa', width:3.2, type:'solid'},
  'Set 1':   {color:'#000000', width:0.9, type:'solid'},
  'Set 4':   {color:'#000000', width:0.9, type:[1.6,1.6]},
  'Set 6':   {color:'#131313', width:2.6, type:'solid'},
  '10%':     {color:'#000000', width:0.9, type:'solid'},
  '50%':     {color:'#131313', width:2.6, type:'solid'},
  '90%':     {color:'#000000', width:1.5, type:[4,2.2]}
};

const grids = [], xAxes = [], yAxes = [], series = [], graphics = [];
const tickStyle = {inside:true, length:5, lineStyle:{color:'#000', width:1}};
const hiddenLine = {show:false, onZero:false};

panels.forEach((p, i) => {
  const xt = p.lat === latA ? xTicksA : xTicksB;
  const yt = p.yt;
  const firstCol = p.col === 0 || p.col === 2;
  const lastRow = p.row === 3;
  grids.push({
    left: colX[p.col], top: rowY[p.row], width: colW[p.col], height: rowH[p.row],
    show: true, borderColor: '#000', borderWidth: 1, backgroundColor: 'rgba(0,0,0,0)',
    containLabel: false, outerBoundsMode: 'none'
  });
  const xBase = {gridIndex:i, type:'value', min:xt[0], max:xt[xt.length-1], interval:xt[1]-xt[0],
    axisLine:hiddenLine, axisTick:tickStyle, splitLine:{show:false}};
  xAxes.push(Object.assign({}, xBase, {position:'bottom',
    axisLabel:{show:lastRow, showMinLabel:true, showMaxLabel:!firstCol, fontSize:15, color:INK, fontFamily:FONT, margin:5}}));
  xAxes.push(Object.assign({}, xBase, {position:'top', axisLabel:{show:false}}));
  const yBase = {gridIndex:i, type:'value', min:yt[0], max:yt[yt.length-1], interval:yt[1]-yt[0],
    axisLine:hiddenLine, axisTick:tickStyle, splitLine:{show:false}};
  yAxes.push(Object.assign({}, yBase, {position:'left',
    axisLabel:{show:firstCol, showMinLabel:lastRow, showMaxLabel:true, fontSize:15, color:INK, fontFamily:FONT, margin: p.col === 0 ? 7 : 4}}));
  yAxes.push(Object.assign({}, yBase, {position:'right', axisLabel:{show:false}}));

  p.lines.forEach(([name, vals], k) => {
    const st = lineStyles[name];
    const s = {
      type:'line', name, xAxisIndex:2*i, yAxisIndex:2*i,
      data: p.lat.map((b, j) => [b, vals[j]]),
      symbol:'none', showSymbol:false, clip:true, silent:true, animation:false,
      lineStyle:{color:st.color, width:st.width, type:st.type, join:'round'},
      itemStyle:{color:st.color},
      emphasis:{disabled:true}
    };
    if (k === 0) {
      s.markLine = {silent:true, symbol:['none','none'], label:{show:false}, animation:false,
        lineStyle:{color:'#222', width:1, type:'solid'}, emphasis:{disabled:true},
        data:[{yAxis:0}]};
    }
    series.push(s);
  });

  const [lx, ly] = lonPos[p.row][p.col];
  graphics.push({type:'text', left:lx, top:ly-15, silent:true, z:20, style:{
    text:'{i|l}{n| = ' + p.lon + '}{d|o}',
    rich:{
      i:{fontSize:25, fontStyle:'italic', fontFamily:FONT, fill:INK, lineHeight:30, verticalAlign:'middle'},
      n:{fontSize:25, fontFamily:FONT, fill:INK, lineHeight:30, verticalAlign:'middle'},
      d:{fontSize:16, fontFamily:FONT, fill:INK, lineHeight:14, verticalAlign:'top'}
    }}});
  const [sx, sy] = bandPos[p.row][p.col];
  graphics.push({type:'text', left:sx, top:sy-11, silent:true, z:20,
    style:{text:p.band, fontSize:20, fontFamily:FONT, fill:INK}});
});

// block titles (the small "0" of X0 sits on the baseline)
const titleRich = {
  m:{fontSize:30, fontFamily:FONT, fill:INK, lineHeight:34, verticalAlign:'middle'},
  s:{fontSize:20, fontFamily:FONT, fill:INK, lineHeight:28, verticalAlign:'bottom'}
};
graphics.push({type:'text', left:68, top:4, silent:true,
  style:{text:'{m|(a) Set 1, 4, and 6 for X}{s|0}{m| = 50%}', rich:titleRich}});
graphics.push({type:'text', left:659, top:4, silent:true,
  style:{text:'{m|(b) X}{s|0}{m| = 10, 50, and 90 % for Set 6}', rich:titleRich}});
// axis titles
graphics.push({type:'text', x:340, y:1192, silent:true,
  style:{text:'Galactic Latitude (deg)', fontSize:20, fontFamily:FONT, fill:INK, align:'center', verticalAlign:'middle'}});
graphics.push({type:'text', x:928, y:1192, silent:true,
  style:{text:'Galactic Latitude (deg)', fontSize:20, fontFamily:FONT, fill:INK, align:'center', verticalAlign:'middle'}});
graphics.push({type:'text', x:22, y:597, rotation:Math.PI/2, silent:true,
  style:{text:'Av(J-H), Av(H-Ks), Av(SFD)   (mag)', fontSize:20, fontFamily:FONT, fill:INK, align:'center', verticalAlign:'middle'}});

// legend entries carry their own stroke so the key matches the plotted lines
const legendItem = name => {
  const st = lineStyles[name];
  return {name, itemStyle:{opacity:0}, lineStyle:{color:st.color, width:st.width, type:st.type}};
};
const legendBase = {
  orient:'vertical', itemWidth:42, itemHeight:14, itemGap:2,
  borderColor:'#333', borderWidth:1, backgroundColor:'#fff', selectedMode:false, z:10,
  itemStyle:{opacity:0},
  textStyle:{fontSize:13.5, color:INK, fontFamily:FONT}
};

const chart = echarts.init(document.getElementById('chart'), null, {renderer:'canvas'});
chart.setOption({
  animation:false,
  backgroundColor:'#fff',
  textStyle:{fontFamily:FONT},
  grid: grids,
  xAxis: xAxes,
  yAxis: yAxes,
  series: series,
  legend: [
    Object.assign({}, legendBase, {data:['Av(SFD)','Set 1','Set 4','Set 6'].map(legendItem), left:217, top:68, padding:[4,4,3,5]}),
    Object.assign({}, legendBase, {data:['Av(SFD)','10%','50%','90%'].map(legendItem), left:798, top:68, padding:[4,10,3,7]})
  ],
  graphic: graphics
});
</script>
</body>
</html>
